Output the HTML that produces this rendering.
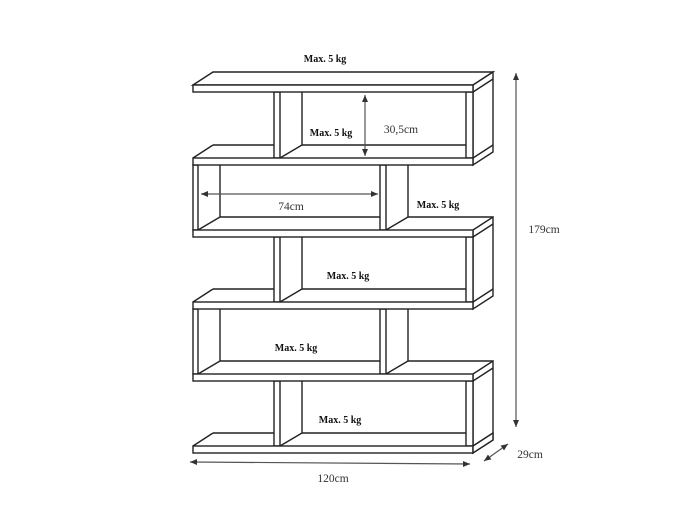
<!DOCTYPE html>
<html><head><meta charset="utf-8"><style>
html,body{margin:0;padding:0;background:#fff;}
svg{display:block}
.t{font-family:"Liberation Serif",serif;font-size:10px;font-weight:bold;fill:#111}
.d{font-family:"Liberation Serif",serif;font-size:11.5px;fill:#333}
</style></head><body>
<svg id="s" width="700" height="525" viewBox="0 0 700 525" xmlns="http://www.w3.org/2000/svg">
<defs><marker id="a" markerWidth="8" markerHeight="8" refX="7" refY="4" orient="auto-start-reverse" markerUnits="userSpaceOnUse"><path d="M0,1 L7,4 L0,7 Z" fill="#333"/></marker></defs>
<g id="g" fill="#fff" stroke="#222" stroke-width="1.4"></g>
<g stroke="#555" stroke-width="1.2" fill="none">
<line x1="516" y1="73" x2="516" y2="427" marker-start="url(#a)" marker-end="url(#a)"/>
<line x1="190" y1="462" x2="470" y2="464" marker-start="url(#a)" marker-end="url(#a)"/>
<line x1="484" y1="461" x2="508" y2="444" marker-start="url(#a)" marker-end="url(#a)"/>
<line x1="365" y1="95" x2="365" y2="156" marker-start="url(#a)" marker-end="url(#a)"/>
<line x1="201" y1="194" x2="378" y2="194" marker-start="url(#a)" marker-end="url(#a)"/>
</g>
<text class="t" x="325" y="62" text-anchor="middle">Max. 5 kg</text>
<text class="t" x="331" y="136" text-anchor="middle">Max. 5 kg</text>
<text class="t" x="438" y="208" text-anchor="middle">Max. 5 kg</text>
<text class="t" x="348" y="279" text-anchor="middle">Max. 5 kg</text>
<text class="t" x="296" y="351" text-anchor="middle">Max. 5 kg</text>
<text class="t" x="340" y="423" text-anchor="middle">Max. 5 kg</text>
<text class="d" x="401" y="133" text-anchor="middle">30,5cm</text>
<text class="d" x="291" y="210" text-anchor="middle">74cm</text>
<text class="d" x="544" y="233" text-anchor="middle">179cm</text>
<text class="d" x="333" y="482" text-anchor="middle">120cm</text>
<text class="d" x="530" y="458" text-anchor="middle">29cm</text>
</svg>
<script>
(function(){
var L=[85,158,230,302,374,446],T=7,dy=13,h='';
function P(p){h+='<polygon points="'+p+'"/>';}
function R(x,y,w,hh){h+='<rect x="'+x+'" y="'+y+'" width="'+w+'" height="'+hh+'"/>';}
function Ln(a,b,c,d){h+='<line x1="'+a+'" y1="'+b+'" x2="'+c+'" y2="'+d+'"/>';}
P('193,85 213,72 493,72 473,85');
for(var i=0;i<5;i++){
 var tp=L[i]+T,bt=L[i+1],by=bt-dy;
 if(i%2==0){
  P('473,'+L[i]+' 493,'+(L[i]-dy)+' 493,'+(bt+T-dy)+' 473,'+(bt+T));
  Ln(473,tp,493,tp-dy);Ln(473,bt,493,bt-dy);
  Ln(302,tp,302,by);Ln(302,by,466,by);Ln(280,bt,302,by);
  Ln(193,bt,213,by);Ln(213,by,274,by);
  R(274,tp,6,bt-tp);R(466,tp,7,bt-tp);
 }else{
  Ln(220,tp,220,by);Ln(220,by,380,by);Ln(198,bt,220,by);
  Ln(408,tp,408,by);Ln(386,bt,408,by);Ln(408,by,493,by);
  R(193,tp,5,bt-tp);R(380,tp,6,bt-tp);
 }
}
for(var j=0;j<6;j++)R(193,L[j],280,T);
P('473,446 493,433 493,440 473,453');
document.getElementById('g').innerHTML=h;
})();
</script>
</body></html>
